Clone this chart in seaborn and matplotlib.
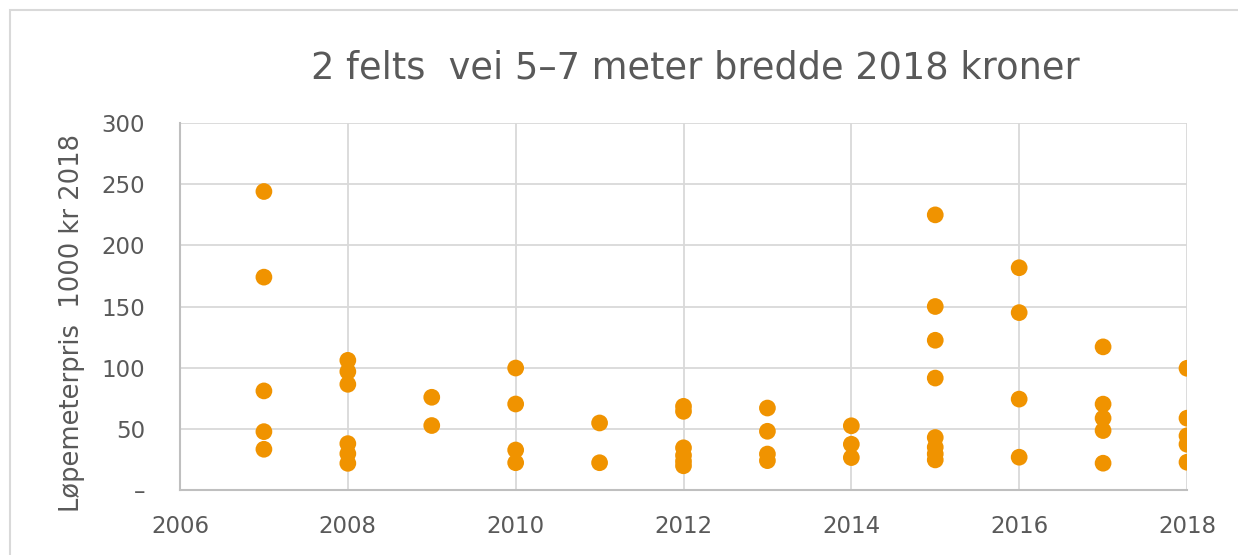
import matplotlib
matplotlib.use("Agg")
import matplotlib.pyplot as plt
import seaborn as sns
import pandas as pd
from matplotlib.patches import Rectangle

# data (x = year, y = 1000 kr 2018 per meter)
years = [2007] * 5 + [2008] * 6 + [2009] * 2 + [2010] * 4 + [2011] * 2 \
    + [2012] * 6 + [2013] * 4 + [2014] * 3 + [2015] * 8 + [2016] * 4 \
    + [2017] * 5 + [2018] * 5
prices = [
    244, 174, 81, 47.7, 33.3,                 # 2007
    106, 96.8, 86.4, 37.9, 29.7, 21.8,        # 2008
    75.8, 52.7,                                # 2009
    99.7, 70.3, 32.7, 22.3,                    # 2010
    54.8, 22.3,                                # 2011
    68.4, 64.3, 34.5, 28.3, 23.5, 19.8,        # 2012
    67, 48, 29.4, 24,                          # 2013
    52.5, 37.4, 26.5,                          # 2014
    224.9, 150, 122.4, 91.5, 42.9, 35, 29.5, 24.6,  # 2015
    181.7, 145, 74.3, 26.8,                    # 2016
    117, 70.2, 58.7, 48.6, 21.9,               # 2017
    99.5, 58.7, 44.3, 37.4, 22.7,              # 2018
]
x_ticks = [2006, 2008, 2010, 2012, 2014, 2016, 2018]
y_ticks = [0, 50, 100, 150, 200, 250, 300]
y_tick_labels = ["–", "50", "100", "150", "200", "250", "300"]

df = pd.DataFrame({"year": years, "price": prices})

sns.set_style("white")
plt.rcParams["font.family"] = ["DejaVu Sans"]
text_col = "#595959"
grid_col = "#D9D9D9"

fig = plt.figure(figsize=(12.38, 5.55), dpi=100)
ax = fig.add_axes([180 / 1238, 1 - 490 / 555, (1187 - 180) / 1238, (490 - 123) / 555])

sns.scatterplot(data=df, x="year", y="price", ax=ax, color="#F09300",
                s=145, edgecolor="none", linewidth=0, zorder=3)

ax.set_xlim(2006, 2018)
ax.set_ylim(0, 300)
ax.set_xticks(x_ticks)
ax.set_yticks(y_ticks)
ax.set_yticklabels(y_tick_labels)
ax.grid(True, color=grid_col, linewidth=1.3)
ax.set_axisbelow(True)
for side in ["top", "right"]:
    ax.spines[side].set_visible(False)
for side in ["left", "bottom"]:
    ax.spines[side].set_color("#BFBFBF")
    ax.spines[side].set_linewidth(1.5)
ax.tick_params(axis="both", length=0, labelcolor=text_col, labelsize=16.5)
ax.tick_params(axis="y", pad=25)
ax.tick_params(axis="x", pad=18)

ax.set_xlabel("")
ax.set_ylabel("Løpemeterpris  1000 kr 2018", color=text_col, fontsize=18.5, labelpad=12)
ax.yaxis.label.set_y(0.455)

fig.text(695 / 1238, 1 - 68 / 555, "2 felts  vei 5–7 meter bredde 2018 kroner",
         ha="center", va="center", color=text_col, fontsize=26.5)

# chart frame like the spreadsheet chart area
fig.patches.append(Rectangle((10 / 1238, -0.1), 1.2, 1 - 10 / 555 + 0.1,
                             transform=fig.transFigure, fill=False,
                             edgecolor=grid_col, linewidth=1.5))

fig.savefig("out.png", dpi=100)
